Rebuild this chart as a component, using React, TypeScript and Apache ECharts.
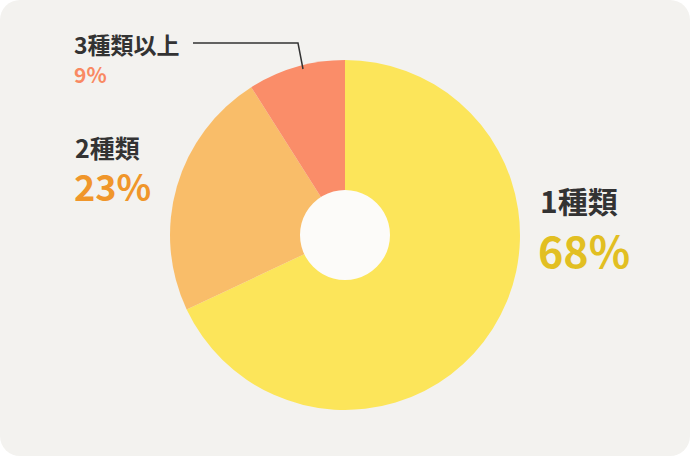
import React, { useEffect, useRef } from 'react';
import * as echarts from 'echarts';

const categories = ['1種類', '2種類', '3種類以上'];
const shares = [68, 23, 9];
const sliceColors = ['#fce55a', '#f9bd69', '#fa8d69'];
const labelColors = ['#e2bf22', '#f0962a', '#f98962'];

const FONT = '"Noto Sans CJK JP", "Noto Sans", sans-serif';

export default function App() {
  const chartRef = useRef<HTMLDivElement>(null);

  useEffect(() => {
    document.body.style.margin = '0';
    if (!chartRef.current) return;
    const chart = echarts.init(chartRef.current, null, { renderer: 'svg' });

    const labelText = (x: number, y: number, text: string, size: number, color: string) => ({
      type: 'text',
      x,
      y,
      z: 20,
      style: {
        text,
        fontSize: size,
        lineHeight: size,
        fontWeight: 'bold',
        fill: color,
        fontFamily: FONT,
        textVerticalAlign: 'top',
      },
    });

    chart.setOption({
      animation: false,
      graphic: [
        {
          type: 'rect',
          z: -10,
          shape: { x: 0, y: 0, width: 690, height: 456, r: 20 },
          style: { fill: '#f3f2ef' },
        },
        {
          type: 'circle',
          z: 10,
          shape: { cx: 345, cy: 235, r: 45 },
          style: { fill: '#fcfbf9' },
        },
        labelText(540, 185, categories[0], 30, '#333333'),
        labelText(538, 227, `${shares[0]}%`, 43, labelColors[0]),
        labelText(75, 134, categories[1], 25, '#333333'),
        labelText(74, 167, `${shares[1]}%`, 36, labelColors[1]),
        labelText(74, 32, categories[2], 23, '#333333'),
        labelText(74, 63, `${shares[2]}%`, 21, labelColors[2]),
        {
          type: 'polyline',
          z: 20,
          shape: { points: [[193, 43], [298, 43], [303, 69]] },
          style: { stroke: '#333333', lineWidth: 1.5, fill: 'none' },
        },
      ],
      series: [
        {
          type: 'pie',
          center: [345, 235],
          radius: [0, 175],
          startAngle: 90,
          clockwise: true,
          silent: true,
          label: { show: false },
          labelLine: { show: false },
          data: shares.map((v, i) => ({
            value: v,
            name: categories[i],
            itemStyle: { color: sliceColors[i], borderWidth: 0 },
          })),
        },
      ],
    });

    return () => chart.dispose();
  }, []);

  return <div ref={chartRef} style={{ width: 690, height: 456 }} />;
}
